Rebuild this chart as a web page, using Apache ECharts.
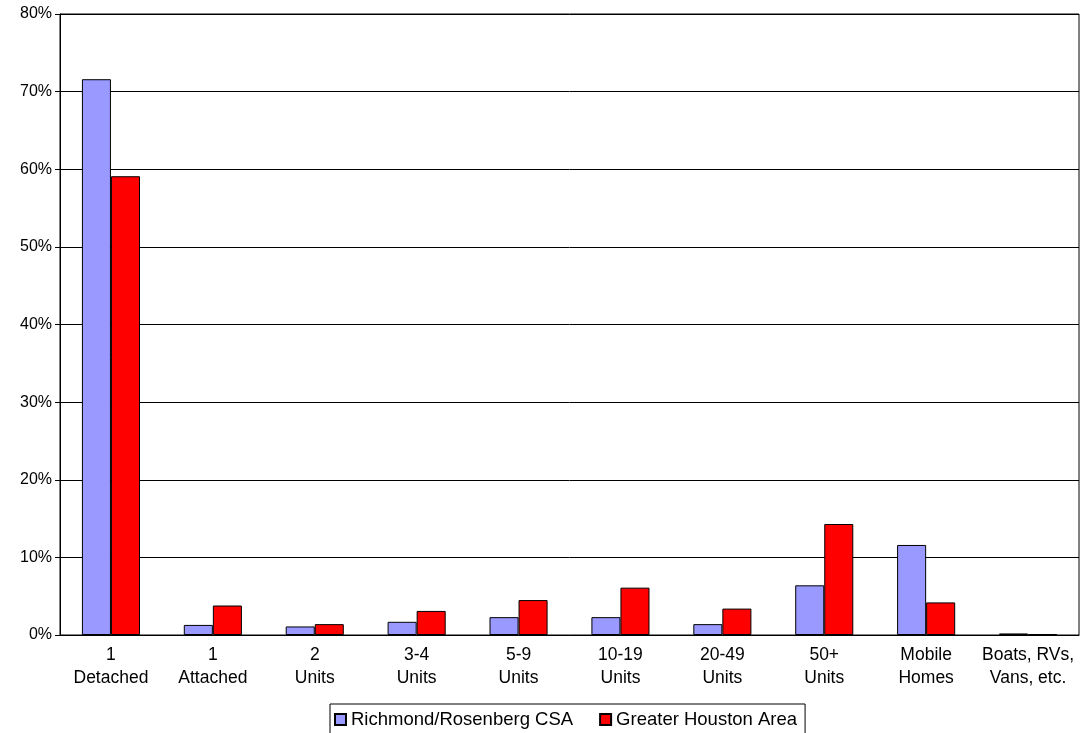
<!DOCTYPE html>
<html><head><meta charset="utf-8">
<script src="https://cdn.jsdelivr.net/npm/echarts@6/dist/echarts.min.js"></script>
<style>html,body{margin:0;padding:0;background:#fff}#c{width:1083px;height:733px}</style>
</head><body><div id="c"></div>
<script>
const categories = ['1\nDetached','1\nAttached','2\nUnits','3-4\nUnits','5-9\nUnits','10-19\nUnits','20-49\nUnits','50+\nUnits','Mobile\nHomes','Boats, RVs,\nVans, etc.'];
const richmond = [71.6, 1.3, 1.1, 1.7, 2.3, 2.3, 1.4, 6.4, 11.6, 0.2];
const houston = [59.1, 3.8, 1.4, 3.1, 4.5, 6.1, 3.4, 14.3, 4.2, 0.1];
const seriesNames = ['Richmond/Rosenberg CSA', 'Greater Houston Area'];
const font = 'Liberation Sans, Arial, sans-serif';
const chart = echarts.init(document.getElementById('c'));
chart.setOption({
  animation: false,
  grid: {left: 60, right: 4, top: 14, bottom: 98, show: true, borderColor: '#000', borderWidth: 1},
  legend: {
    bottom: -8, left: 330, icon: 'rect', itemWidth: 11, itemHeight: 11, itemGap: 26,
    borderColor: '#000', borderWidth: 1, padding: [6, 8, 12, 4],
    textStyle: {fontFamily: font, fontSize: 18.5, color: '#000'},
    data: seriesNames
  },
  xAxis: {
    type: 'category', data: categories,
    axisLine: {lineStyle: {color: '#000'}},
    axisTick: {lineStyle: {color: '#000'}},
    axisLabel: {fontFamily: font, fontSize: 17.5, color: '#000', lineHeight: 23, margin: 9, interval: 0}
  },
  yAxis: {
    type: 'value', min: 0, max: 80, interval: 10,
    axisLabel: {formatter: '{value}%', fontFamily: font, fontSize: 16, color: '#000', margin: 8},
    axisLine: {show: true, lineStyle: {color: '#000'}},
    axisTick: {show: true, length: 5, lineStyle: {color: '#000'}},
    splitLine: {lineStyle: {color: '#000'}}
  },
  series: [
    {name: seriesNames[0], type: 'bar', data: richmond, barGap: '0%', barCategoryGap: '43%',
     itemStyle: {color: '#9999FF', borderColor: '#000', borderWidth: 1}},
    {name: seriesNames[1], type: 'bar', data: houston,
     itemStyle: {color: '#FF0000', borderColor: '#000', borderWidth: 1}}
  ]
});
</script></body></html>
